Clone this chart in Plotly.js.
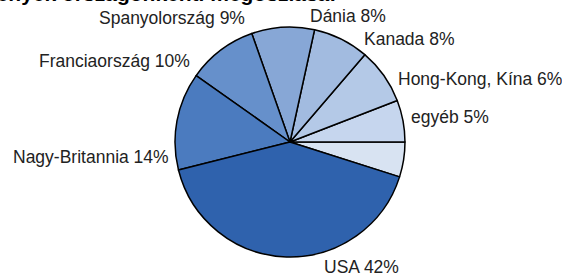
<!DOCTYPE html>
<html>
<head>
<meta charset="utf-8">
<script src="https://cdn.plot.ly/plotly-3.0.1.min.js"></script>
<style>html,body{margin:0;padding:0;background:#fff;}#chart{width:562px;height:275px;}</style>
</head>
<body>
<div id="chart"></div>
<script>
var countries = ["egyéb", "Hong-Kong, Kína", "Kanada", "Dánia", "Spanyolország", "Franciaország", "Nagy-Britannia", "USA"];
var shares = [5, 6, 8, 8, 9, 10, 14, 42];
var sliceColors = ["#D8E3F2", "#C6D6EE", "#B4C9E7", "#A2BBE0", "#87A7D6", "#6690CB", "#4B7BBF", "#2F62AD"];
var titleText = "Kötvények országonkénti megoszlása:";

var W = 562, H = 275;
var dom = {x: [0.3114, 0.7206], y: [0.0655, 0.9018]};
var FONT = "Liberation Sans, Arial, sans-serif";

var trace = {
  type: "pie",
  labels: countries,
  values: shares,
  textinfo: "none",
  sort: false,
  direction: "counterclockwise",
  rotation: 90,
  marker: {colors: sliceColors, line: {color: "#000", width: 1.5}},
  domain: dom,
  showlegend: false,
  hoverinfo: "none"
};

// label annotations placed just outside each slice's mid-angle (Excel-like)
var cx = (dom.x[0] + dom.x[1]) / 2 * W;
var cy = (1 - (dom.y[0] + dom.y[1]) / 2) * H;
var r = Math.min((dom.x[1] - dom.x[0]) * W, (dom.y[1] - dom.y[0]) * H) / 2;
var total = shares.reduce(function(a, b){ return a + b; }, 0);
var annotations = [];
var cum = 0;
shares.forEach(function(v, i){
  var mid = (cum + v / 2) / total * 2 * Math.PI;
  cum += v;
  var c = Math.cos(mid), s = Math.sin(mid);
  var R = r + 6;
  var px = cx + R * c, py = cy - R * s;
  var xa = c > 0 ? "left" : "right";
  var ya = s > 0.05 ? "bottom" : (s < -0.5 ? "top" : "middle");
  var ys = 0;
  if (ya === "bottom" && c > 0) ys = -5;
  if (ya === "top") ys = 2;
  annotations.push({
    text: countries[i] + " " + v + "%",
    xref: "paper", yref: "paper",
    x: px / W, y: 1 - py / H,
    xanchor: xa, yanchor: ya, yshift: ys,
    showarrow: false,
    borderpad: 0,
    font: {family: FONT, size: 17.5, color: "#222"}
  });
});

annotations.push({
  text: "<b>" + titleText + "</b>",
  xref: "paper", yref: "paper",
  x: 338 / W, xanchor: "right",
  y: 1, yanchor: "bottom", yshift: -7,
  showarrow: false,
  font: {family: FONT, size: 21, color: "#000"}
});

var layout = {
  width: W, height: H,
  margin: {l: 0, r: 0, t: 0, b: 0},
  paper_bgcolor: "#fff",
  showlegend: false,
  annotations: annotations
};

Plotly.newPlot("chart", [trace], layout, {displayModeBar: false, staticPlot: true});
</script>
</body>
</html>
